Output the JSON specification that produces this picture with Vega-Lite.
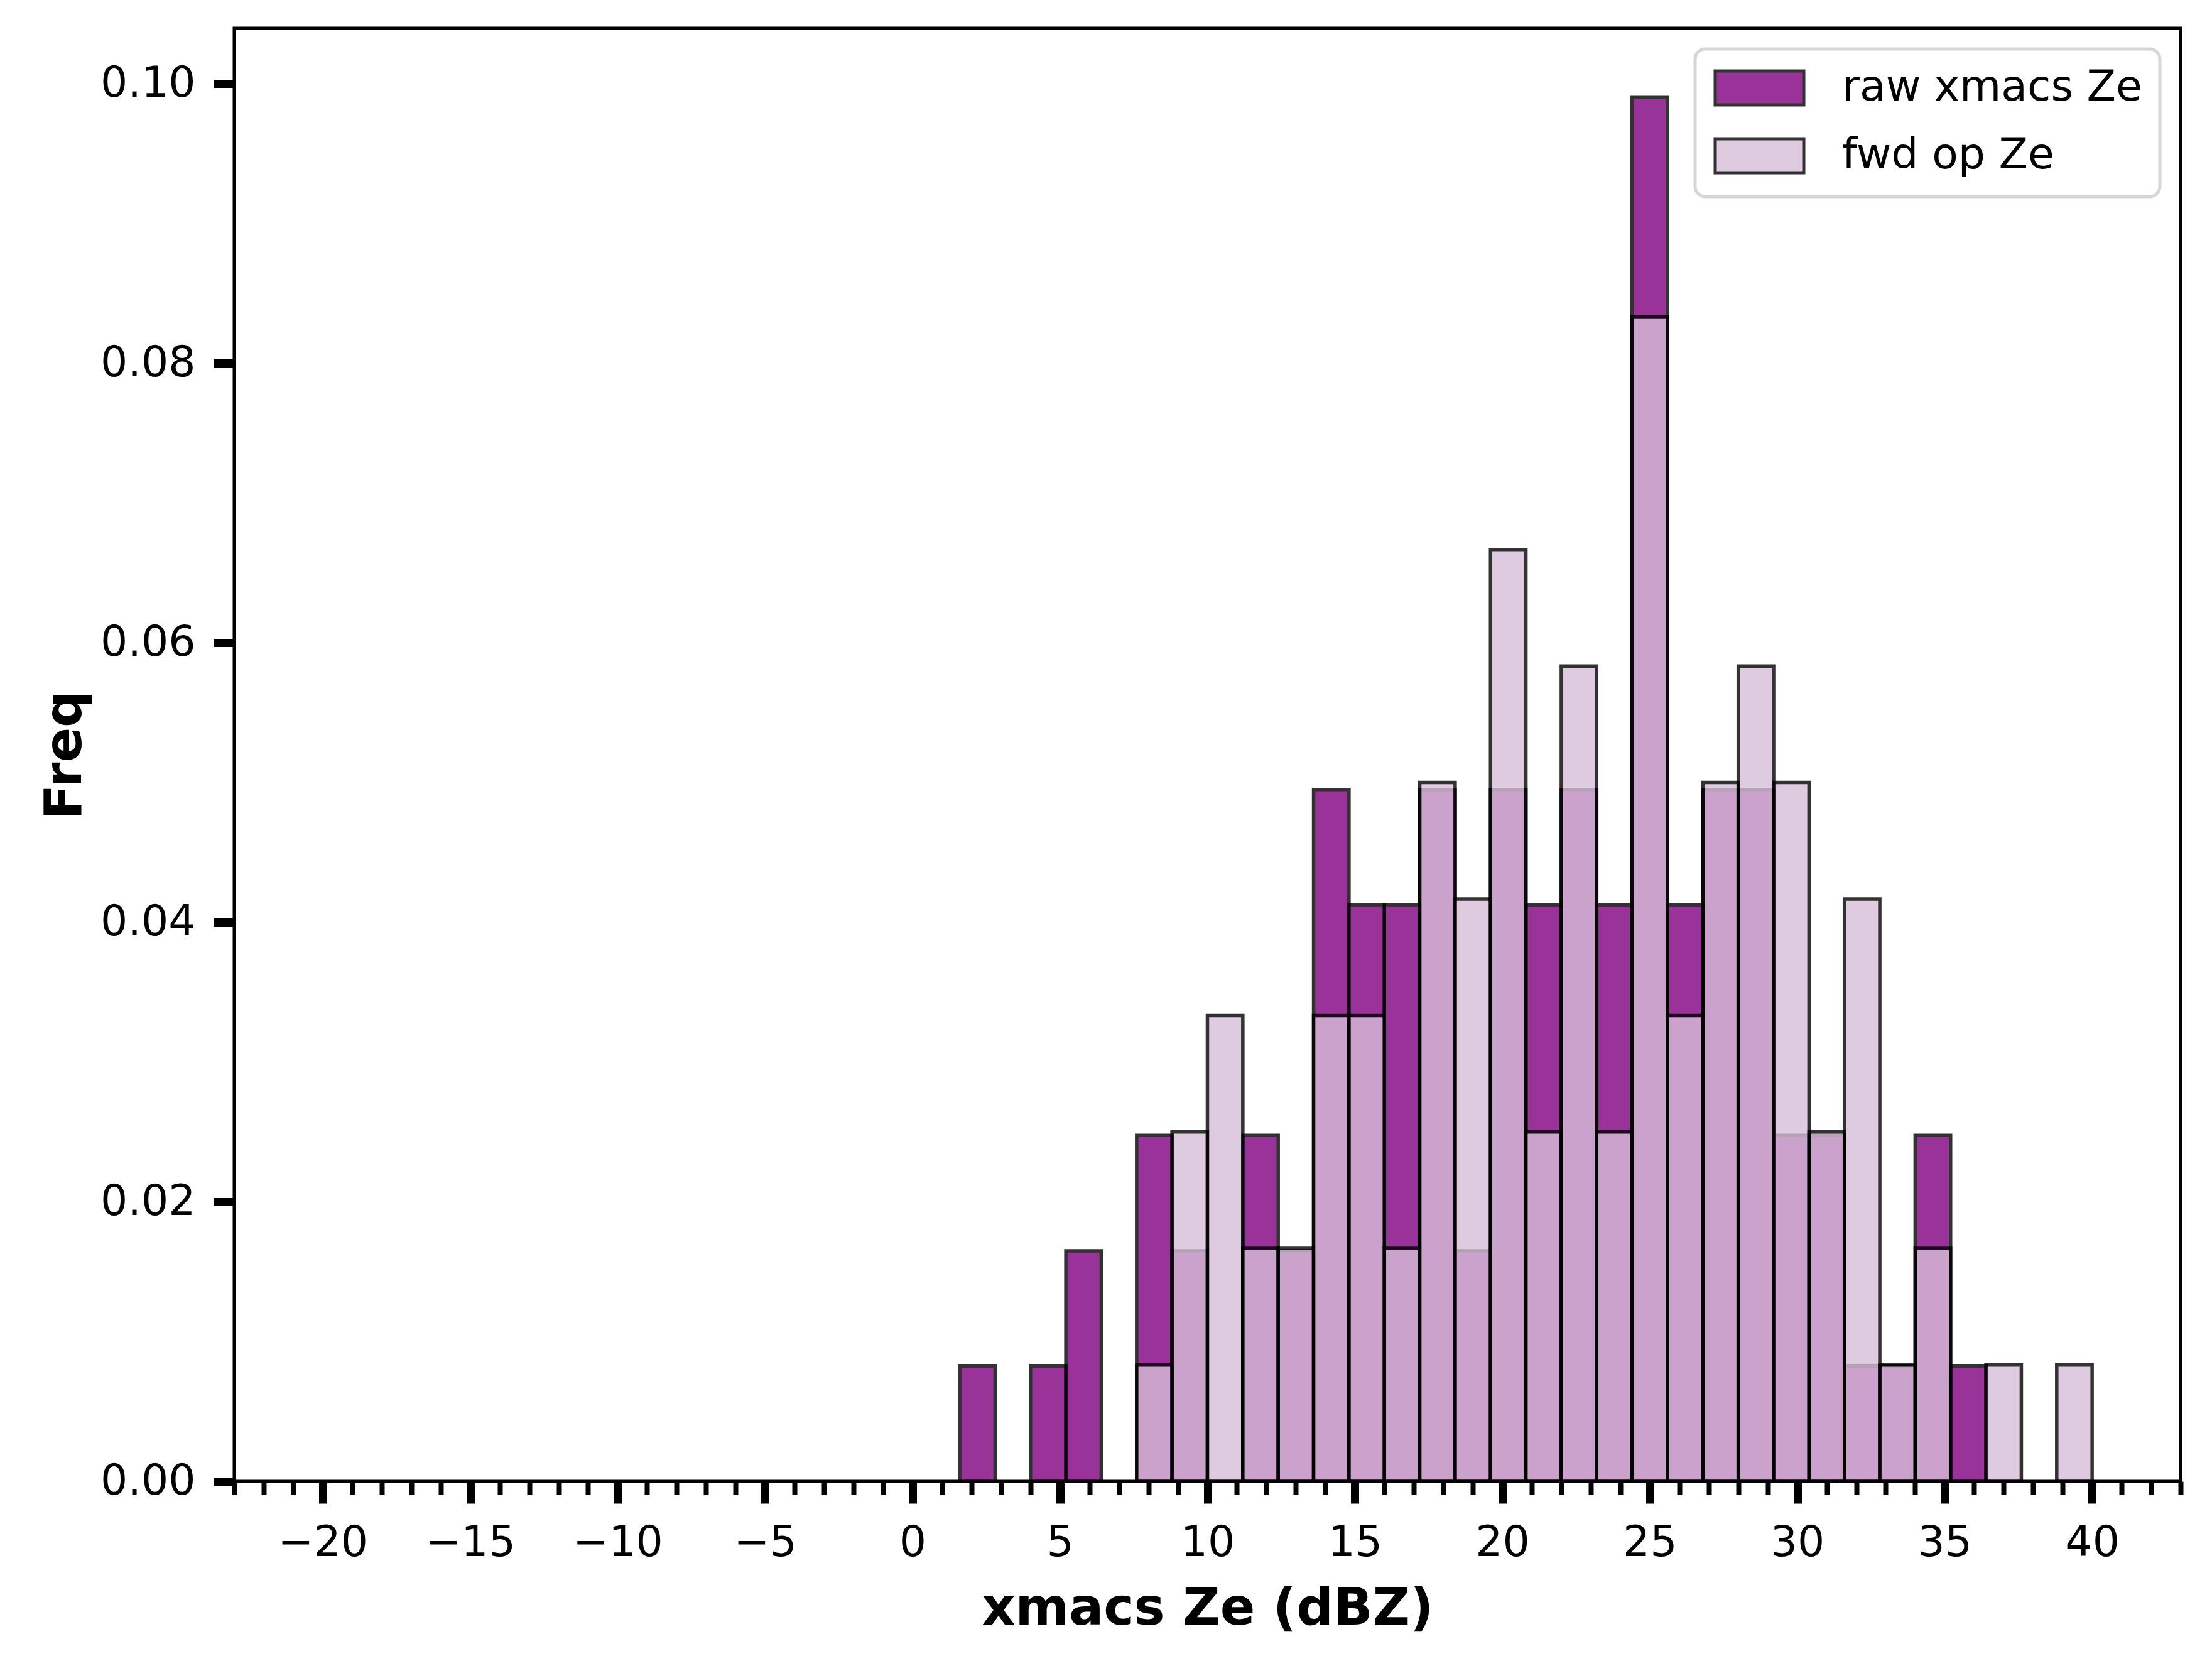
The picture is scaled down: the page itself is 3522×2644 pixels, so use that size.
{
  "$schema": "https://vega.github.io/schema/vega-lite/v6.json",
  "width": 3099,
  "height": 2313,
  "autosize": {"type": "none"},
  "padding": {"left": 373, "top": 45, "right": 50, "bottom": 286},
  "background": "white",
  "data": {
    "values": [
      {"series": "raw xmacs Ze", "x0": 1.6, "x1": 2.8, "freq": 0.00825},
      {"series": "raw xmacs Ze", "x0": 4.0, "x1": 5.2, "freq": 0.00825},
      {"series": "raw xmacs Ze", "x0": 5.2, "x1": 6.4, "freq": 0.0165},
      {"series": "raw xmacs Ze", "x0": 7.6, "x1": 8.8, "freq": 0.02475},
      {"series": "raw xmacs Ze", "x0": 8.8, "x1": 10.0, "freq": 0.0165},
      {"series": "raw xmacs Ze", "x0": 11.2, "x1": 12.4, "freq": 0.02475},
      {"series": "raw xmacs Ze", "x0": 12.4, "x1": 13.6, "freq": 0.0165},
      {"series": "raw xmacs Ze", "x0": 13.6, "x1": 14.8, "freq": 0.0495},
      {"series": "raw xmacs Ze", "x0": 14.8, "x1": 16.0, "freq": 0.04125},
      {"series": "raw xmacs Ze", "x0": 16.0, "x1": 17.2, "freq": 0.04125},
      {"series": "raw xmacs Ze", "x0": 17.2, "x1": 18.4, "freq": 0.0495},
      {"series": "raw xmacs Ze", "x0": 18.4, "x1": 19.6, "freq": 0.0165},
      {"series": "raw xmacs Ze", "x0": 19.6, "x1": 20.8, "freq": 0.0495},
      {"series": "raw xmacs Ze", "x0": 20.8, "x1": 22.0, "freq": 0.04125},
      {"series": "raw xmacs Ze", "x0": 22.0, "x1": 23.2, "freq": 0.0495},
      {"series": "raw xmacs Ze", "x0": 23.2, "x1": 24.4, "freq": 0.04125},
      {"series": "raw xmacs Ze", "x0": 24.4, "x1": 25.6, "freq": 0.099},
      {"series": "raw xmacs Ze", "x0": 25.6, "x1": 26.8, "freq": 0.04125},
      {"series": "raw xmacs Ze", "x0": 26.8, "x1": 28.0, "freq": 0.0495},
      {"series": "raw xmacs Ze", "x0": 28.0, "x1": 29.2, "freq": 0.0495},
      {"series": "raw xmacs Ze", "x0": 29.2, "x1": 30.4, "freq": 0.02475},
      {"series": "raw xmacs Ze", "x0": 30.4, "x1": 31.6, "freq": 0.02475},
      {"series": "raw xmacs Ze", "x0": 31.6, "x1": 32.8, "freq": 0.00825},
      {"series": "raw xmacs Ze", "x0": 32.8, "x1": 34.0, "freq": 0.00825},
      {"series": "raw xmacs Ze", "x0": 34.0, "x1": 35.2, "freq": 0.02475},
      {"series": "raw xmacs Ze", "x0": 35.2, "x1": 36.4, "freq": 0.00825},
      {"series": "fwd op Ze", "x0": 7.6, "x1": 8.8, "freq": 0.00833},
      {"series": "fwd op Ze", "x0": 8.8, "x1": 10.0, "freq": 0.025},
      {"series": "fwd op Ze", "x0": 10.0, "x1": 11.2, "freq": 0.03333},
      {"series": "fwd op Ze", "x0": 11.2, "x1": 12.4, "freq": 0.01667},
      {"series": "fwd op Ze", "x0": 12.4, "x1": 13.6, "freq": 0.01667},
      {"series": "fwd op Ze", "x0": 13.6, "x1": 14.8, "freq": 0.03333},
      {"series": "fwd op Ze", "x0": 14.8, "x1": 16.0, "freq": 0.03333},
      {"series": "fwd op Ze", "x0": 16.0, "x1": 17.2, "freq": 0.01667},
      {"series": "fwd op Ze", "x0": 17.2, "x1": 18.4, "freq": 0.05},
      {"series": "fwd op Ze", "x0": 18.4, "x1": 19.6, "freq": 0.04167},
      {"series": "fwd op Ze", "x0": 19.6, "x1": 20.8, "freq": 0.06667},
      {"series": "fwd op Ze", "x0": 20.8, "x1": 22.0, "freq": 0.025},
      {"series": "fwd op Ze", "x0": 22.0, "x1": 23.2, "freq": 0.05833},
      {"series": "fwd op Ze", "x0": 23.2, "x1": 24.4, "freq": 0.025},
      {"series": "fwd op Ze", "x0": 24.4, "x1": 25.6, "freq": 0.08333},
      {"series": "fwd op Ze", "x0": 25.6, "x1": 26.8, "freq": 0.03333},
      {"series": "fwd op Ze", "x0": 26.8, "x1": 28.0, "freq": 0.05},
      {"series": "fwd op Ze", "x0": 28.0, "x1": 29.2, "freq": 0.05833},
      {"series": "fwd op Ze", "x0": 29.2, "x1": 30.4, "freq": 0.05},
      {"series": "fwd op Ze", "x0": 30.4, "x1": 31.6, "freq": 0.025},
      {"series": "fwd op Ze", "x0": 31.6, "x1": 32.8, "freq": 0.04167},
      {"series": "fwd op Ze", "x0": 32.8, "x1": 34.0, "freq": 0.00833},
      {"series": "fwd op Ze", "x0": 34.0, "x1": 35.2, "freq": 0.01667},
      {"series": "fwd op Ze", "x0": 36.4, "x1": 37.6, "freq": 0.00833},
      {"series": "fwd op Ze", "x0": 38.8, "x1": 40.0, "freq": 0.00833}
    ]
  },
  "encoding": {
    "x2": {"field": "x1"},
    "y": {
      "field": "freq",
      "type": "quantitative",
      "stack": null,
      "scale": {"domain": [0, 0.10396], "nice": false},
      "axis": {
        "title": "Freq",
        "values": [0, 0.02, 0.04, 0.06, 0.08, 0.1],
        "format": ".2f",
        "tickSize": 33,
        "tickWidth": 13,
        "labelPadding": 29,
        "titlePadding": 28
      }
    },
    "y2": {"datum": 0},
    "color": {
      "field": "series",
      "type": "nominal",
      "scale": {"domain": ["raw xmacs Ze", "fwd op Ze"], "range": ["purple", "thistle"]},
      "legend": {
        "title": null,
        "orient": "top-right",
        "offset": 33,
        "symbolType": "M-1,-0.9H3.7V0.9H-1Z",
        "symbolSize": 3600,
        "symbolStrokeColor": "black",
        "symbolStrokeWidth": 5,
        "symbolOpacity": 0.8,
        "labelFont": "DejaVu Sans",
        "labelFontSize": 68,
        "labelColor": "black",
        "labelLimit": 0,
        "labelOffset": 138,
        "rowPadding": 34,
        "padding": 28,
        "fillColor": "white",
        "strokeColor": "#d6d6d6",
        "cornerRadius": 16
      }
    }
  },
  "layer": [
    {
      "transform": [{"filter": "datum.series === 'raw xmacs Ze'"}],
      "mark": {"type": "bar", "opacity": 0.8, "stroke": "black", "strokeWidth": 5.5},
      "encoding": {
        "x": {
          "field": "x0",
          "type": "quantitative",
          "scale": {"domain": [-23, 43], "nice": false, "zero": false},
          "axis": {
            "orient": "bottom",
            "title": "xmacs Ze (dBZ)",
            "values": [-20, -15, -10, -5, 0, 5, 10, 15, 20, 25, 30, 35, 40],
            "format": "d",
            "tickSize": 35,
            "tickWidth": 13,
            "labelPadding": 29,
            "titlePadding": 30
          }
        }
      }
    },
    {
      "transform": [{"filter": "datum.series === 'fwd op Ze'"}],
      "mark": {"type": "bar", "opacity": 0.8, "stroke": "black", "strokeWidth": 5.5},
      "encoding": {
        "x": {
          "field": "x0",
          "type": "quantitative",
          "scale": {"domain": [-23, 43], "nice": false, "zero": false},
          "axis": {
            "orient": "bottom",
            "title": null,
            "values": [-23,-22,-21,-19,-18,-17,-16,-14,-13,-12,-11,-9,-8,-7,-6,-4,-3,-2,-1,1,2,3,4,6,7,8,9,11,12,13,14,16,17,18,19,21,22,23,24,26,27,28,29,31,32,33,34,36,37,38,39,41,42,43],
            "labels": false,
            "domain": false,
            "tickSize": 21,
            "tickWidth": 8
          }
        }
      }
    }
  ],
  "resolve": {"axis": {"x": "independent"}},
  "config": {
    "view": {"stroke": "black", "strokeWidth": 5},
    "legend": {"strokeWidth": 5},
    "axis": {
      "grid": false,
      "domainColor": "black",
      "domainWidth": 5,
      "tickColor": "black",
      "labelFont": "DejaVu Sans",
      "labelFontSize": 68,
      "labelColor": "black",
      "titleFont": "DejaVu Sans",
      "titleFontSize": 82,
      "titleFontWeight": "bold",
      "titleColor": "black"
    }
  }
}
